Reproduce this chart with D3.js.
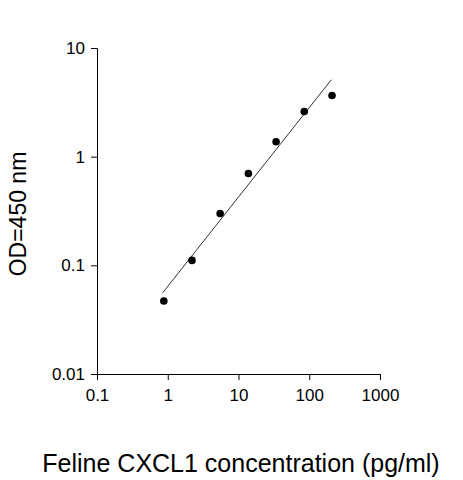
<!DOCTYPE html>
<html><head><meta charset="utf-8">
<script src="https://cdn.jsdelivr.net/npm/d3@7"></script>
<style>body{margin:0;background:#fff}text{font-family:Arial,"Liberation Sans",sans-serif}</style>
</head><body><svg id="c" width="463" height="480"></svg>
<script>
const concentrations=[0.88,2.2,5.5,13.8,34,85,210];
const odValues=[0.047,0.111,0.30,0.70,1.37,2.6,3.65];
const fitX=[0.85,205];
const fitY=[0.056,5.1];
const xTicks=[0.1,1,10,100,1000];
const yTicks=[0.01,0.1,1,10];
const svg=d3.select("#c");
const x=d3.scaleLog().domain([0.1,1000]).range([97,380]);
const y=d3.scaleLog().domain([0.01,10]).range([374,48]);
const fmt=d=>String(d);
const xa=svg.append("g").attr("transform","translate(0,374)").call(d3.axisBottom(x).tickValues(xTicks).tickFormat(fmt).tickSize(6).tickPadding(9));
const ya=svg.append("g").attr("transform","translate(97,0)").call(d3.axisLeft(y).tickValues(yTicks).tickFormat(fmt).tickSize(6).tickPadding(6));
[xa,ya].forEach(g=>{g.selectAll("text").attr("font-size",17).attr("fill","#000").style("font-family","Arial");g.selectAll("line,path").attr("stroke","#000");});
svg.append("path").datum(fitX.map((d,i)=>[d,fitY[i]])).attr("fill","none").attr("stroke","#000").attr("stroke-width",0.8)
 .attr("d",d3.line().x(d=>x(d[0])).y(d=>y(d[1])));
svg.selectAll("circle.p").data(concentrations).join("circle").attr("cx",d=>x(d)).attr("cy",(d,i)=>y(odValues[i])).attr("r",3.8).attr("fill","#000");
svg.append("text").attr("x",241).attr("y",472).attr("text-anchor","middle").attr("font-size",25).text("Feline CXCL1 concentration (pg/ml)");
svg.append("text").attr("transform","translate(26,214) rotate(-90)").attr("text-anchor","middle").attr("font-size",23).text("OD=450 nm");
</script></body></html>
